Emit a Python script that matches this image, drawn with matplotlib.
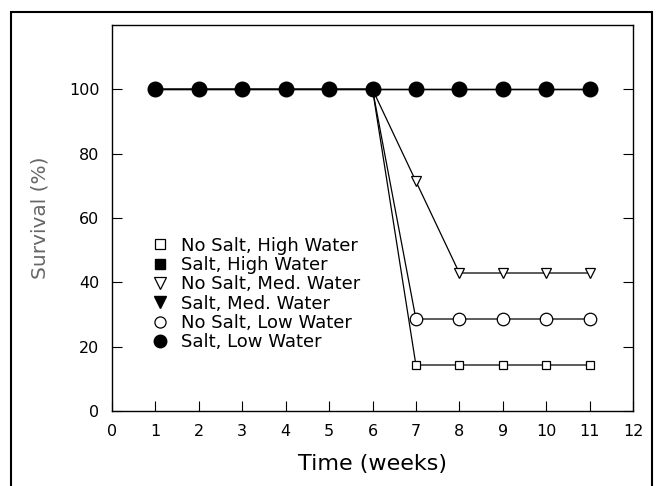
import matplotlib.pyplot as plt
from matplotlib.lines import Line2D
from matplotlib.patches import Rectangle

""" data """
weeks = [1, 2, 3, 4, 5, 6, 7, 8, 9, 10, 11]
nosalt_high = [100, 100, 100, 100, 100, 100, 14.3, 14.3, 14.3, 14.3, 14.3]
salt_high = [100, 100, 100, 100, 100, 100, 100, 100, 100, 100, 100]
nosalt_med = [100, 100, 100, 100, 100, 100, 71.4, 42.9, 42.9, 42.9, 42.9]
salt_med = [100, 100, 100, 100, 100, 100, 100, 100, 100, 100, 100]
nosalt_low = [100, 100, 100, 100, 100, 100, 28.6, 28.6, 28.6, 28.6, 28.6]
salt_low = [100, 100, 100, 100, 100, 100, 100, 100, 100, 100, 100]
labels = ['No Salt, High Water', 'Salt, High Water', 'No Salt, Med. Water',
          'Salt, Med. Water', 'No Salt, Low Water', 'Salt, Low Water']

fig = plt.figure(figsize=(6.63, 4.86), dpi=100)
ax = fig.add_axes([112/663, 1-411/486, 521/663, 386/486])

lw = 0.9
ax.plot(weeks, nosalt_high, color='k', lw=lw, marker='s', ms=6, mfc='white', mec='k', mew=0.9)
ax.plot(weeks, nosalt_med, color='k', lw=lw, marker='v', ms=7.5, mfc='white', mec='k', mew=0.9)
ax.plot(weeks, nosalt_low, color='k', lw=lw, marker='o', ms=9, mfc='white', mec='k', mew=0.9)
""" salt series all sit at 100, circles end up on top """
ax.plot(weeks, salt_med, color='k', lw=lw, marker='v', ms=7, mfc='k', mec='k')
ax.plot(weeks, salt_high, color='k', lw=lw, marker='s', ms=6, mfc='k', mec='k')
ax.plot(weeks, salt_low, color='k', lw=lw, marker='o', ms=10.5, mfc='k', mec='k')

""" legend with markers only """
handles = [
    Line2D([], [], ls='none', marker='s', ms=7, mfc='white', mec='k', mew=0.9),
    Line2D([], [], ls='none', marker='s', ms=7, mfc='k', mec='k'),
    Line2D([], [], ls='none', marker='v', ms=8, mfc='white', mec='k', mew=0.9),
    Line2D([], [], ls='none', marker='v', ms=8, mfc='k', mec='k'),
    Line2D([], [], ls='none', marker='o', ms=8, mfc='white', mec='k', mew=0.9),
    Line2D([], [], ls='none', marker='o', ms=9, mfc='k', mec='k'),
]
ax.legend(handles, labels, loc='upper left', bbox_to_anchor=(0.06, 0.47),
          frameon=False, fontsize=13, handlelength=1.0, handletextpad=0.7,
          labelspacing=0.07, borderaxespad=0)

ax.set_xlim(0, 12)
ax.set_ylim(0, 120)
ax.set_xticks(range(0, 13))
ax.set_yticks([0, 20, 40, 60, 80, 100])
ax.tick_params(direction='in', length=7, width=0.8, labelsize=11.5, top=False, right=True, pad=9)
for s in ax.spines.values():
    s.set_linewidth(1.0)
ax.set_xlabel('Time (weeks)', fontsize=16, labelpad=11)
ax.set_ylabel('Survival (%)', fontsize=14.5, color='#666666', labelpad=14)

""" outer frame """
fig.patches.append(Rectangle((11/663, -0.05), 641/663, 1.05 - 12/486, transform=fig.transFigure,
                             fill=False, ec='k', lw=1.5))

plt.savefig('out.png', dpi=100)
